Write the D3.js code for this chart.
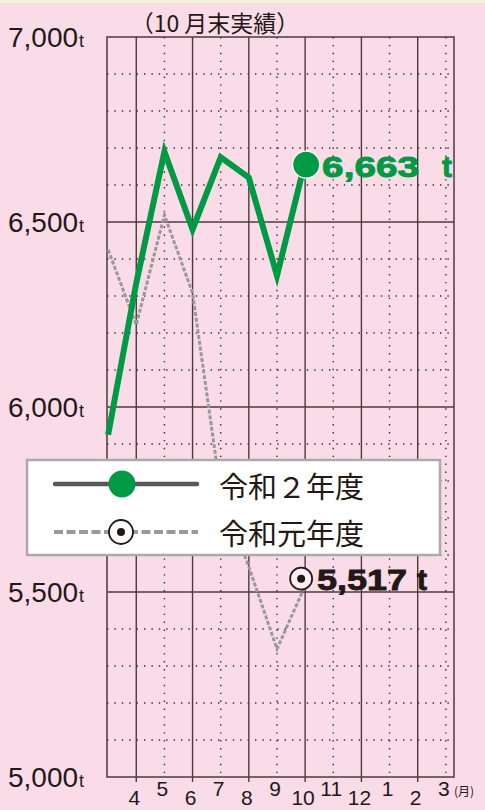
<!DOCTYPE html>
<html>
<head>
<meta charset="utf-8">
<script src="https://cdn.jsdelivr.net/npm/d3@7"></script>
<style>
  body { margin: 0; background: #fadce9; }
  svg { display: block; }
</style>
</head>
<body>
<script>
// data (first point = end of previous March)
var months = ["", "4", "5", "6", "7", "8", "9", "10", "11", "12", "1", "2", "3"];
var r2Values = [5925, 6335, 6690, 6480, 6675, 6620, 6355, 6663];
var r1Values = [6425, 6222, 6519, 6308, 5770, 5568, 5346, 5517];
var yTicks = [5000, 5500, 6000, 6500, 7000];
var yTickLabels = ["5,000", "5,500", "6,000", "6,500", "7,000"];
var legendNames = ["令和２年度", "令和元年度"];
var title = "（10 月末実績）";

var width = 485, height = 810;
var green = "#009a44";
var ink = "#231815";
var gridColor = "#4b3b3d";

var svg = d3.select("body")
            .append("svg")
            .attr("width", width)
            .attr("height", height);

svg.append("rect").attr("width", width).attr("height", height).attr("fill", "#fadce9");
svg.append("rect").attr("width", width).attr("height", 3).attr("fill", "#f2f4d4");

//scales
var xScale = d3.scaleLinear()
               .domain([-0.04, 12.29])
               .range([107, 454]);

var yScale = d3.scaleLinear()
               .domain([5000, 7000])
               .range([777, 37]);

//horizontal grid: dotted every 100, solid every 500
var minorY = d3.range(5100, 7000, 100).filter(function(d){ return d % 500 != 0; });
svg.selectAll(".hdot")
   .data(minorY)
   .enter()
   .append("line")
   .attr("x1", xScale.range()[0]).attr("x2", xScale.range()[1])
   .attr("y1", function(d){ return yScale(d); })
   .attr("y2", function(d){ return yScale(d); })
   .attr("stroke", "#3a2c2c")
   .attr("stroke-width", 1.4)
   .attr("stroke-dasharray", "1.4,6");

//vertical grid: solid at 4,6,8..., dotted at 5,7,9...
var solidX = d3.range(1, 12, 2);
var dotX = d3.range(2, 13, 2);
svg.selectAll(".vdot")
   .data(dotX)
   .enter()
   .append("line")
   .attr("x1", function(d){ return xScale(d); })
   .attr("x2", function(d){ return xScale(d); })
   .attr("y1", yScale(7000)).attr("y2", yScale(5000))
   .attr("stroke", "#3a2c2c")
   .attr("stroke-width", 1.4)
   .attr("stroke-dasharray", "1.4,6.5");

svg.selectAll(".vsolid")
   .data(solidX)
   .enter()
   .append("line")
   .attr("x1", function(d){ return xScale(d); })
   .attr("x2", function(d){ return xScale(d); })
   .attr("y1", yScale(7000)).attr("y2", yScale(5000) + 5)
   .attr("stroke", gridColor)
   .attr("stroke-width", 1.4);

svg.selectAll(".hsolid")
   .data([5500, 6000, 6500])
   .enter()
   .append("line")
   .attr("x1", xScale.range()[0]).attr("x2", xScale.range()[1])
   .attr("y1", function(d){ return yScale(d); })
   .attr("y2", function(d){ return yScale(d); })
   .attr("stroke", gridColor)
   .attr("stroke-width", 1.4);

//plot border
svg.append("rect")
   .attr("x", xScale.range()[0])
   .attr("y", yScale(7000))
   .attr("width", xScale.range()[1] - xScale.range()[0])
   .attr("height", yScale(5000) - yScale(7000))
   .attr("fill", "none")
   .attr("stroke", gridColor)
   .attr("stroke-width", 1.5);

//y labels
var yLab = svg.selectAll(".ylab")
   .data(yTicks)
   .enter()
   .append("text")
   .attr("x", 8)
   .attr("y", function(d){ return yScale(d) + 10; })
   .attr("font-family", "'Liberation Sans', Arial, sans-serif")
   .attr("fill", ink);
yLab.append("tspan")
    .attr("font-size", 28)
    .text(function(d, i){ return yTickLabels[i]; });
yLab.append("tspan")
    .attr("font-size", 18)
    .attr("dx", 1)
    .text("t");

//x labels (staggered)
svg.selectAll(".xlab")
   .data(months.slice(1))
   .enter()
   .append("text")
   .attr("x", function(d, i){ return xScale(i + 1) - 2; })
   .attr("y", function(d, i){ return i % 2 == 0 ? 805 : 796; })
   .attr("text-anchor", "middle")
   .attr("font-family", "'Liberation Sans', Arial, sans-serif")
   .attr("font-size", 21)
   .attr("fill", ink)
   .text(function(d){ return d; });

svg.append("text")
   .attr("x", 454).attr("y", 796)
   .attr("font-family", "'Noto Sans CJK JP', sans-serif")
   .attr("font-size", 12)
   .attr("fill", ink)
   .text("(月)");

//title
svg.append("text")
   .attr("x", 215).attr("y", 32)
   .attr("text-anchor", "middle")
   .attr("font-family", "'Noto Sans CJK JP', sans-serif")
   .attr("font-size", 23)
   .attr("fill", ink)
   .text(title);

//lines
var line = d3.line()
             .x(function(d, i){ return xScale(i); })
             .y(function(d){ return yScale(d); });

svg.append("path")
   .datum(r1Values)
   .attr("d", line)
   .attr("fill", "none")
   .attr("stroke", "#999")
   .attr("stroke-width", 3)
   .attr("stroke-dasharray", "4,1.8");

svg.append("path")
   .datum(r2Values)
   .attr("d", line)
   .attr("fill", "none")
   .attr("stroke", green)
   .attr("stroke-width", 6)
   .attr("stroke-linejoin", "miter");

//end markers + labels
var lastR2 = r2Values.length - 1;
var gx = xScale(lastR2), gy = yScale(r2Values[lastR2]);
svg.append("circle")
   .attr("cx", gx + 1).attr("cy", gy + 3)
   .attr("r", 13.5)
   .attr("fill", green)
   .attr("stroke", "#fff")
   .attr("stroke-width", 1.2);
var gLab = svg.append("text")
   .attr("x", gx + 17).attr("y", gy + 15)
   .attr("font-family", "'Liberation Sans', Arial, sans-serif")
   .attr("font-weight", "bold")
   .attr("font-size", 30)
   .attr("fill", green)
   .attr("stroke", green)
   .attr("stroke-width", 0.9);
gLab.append("tspan").attr("textLength", 97).attr("lengthAdjust", "spacingAndGlyphs")
    .text(d3.format(",")(r2Values[lastR2]));
gLab.append("tspan").attr("x", gx + 137).text("t");

var lastR1 = r1Values.length - 1;
var bx = xScale(lastR1) - 4, by = yScale(r1Values[lastR1]) - 7;
svg.append("circle")
   .attr("cx", bx).attr("cy", by)
   .attr("r", 11)
   .attr("fill", "#fdeef4")
   .attr("stroke", ink)
   .attr("stroke-width", 1.8);
svg.append("circle")
   .attr("cx", bx).attr("cy", by)
   .attr("r", 4)
   .attr("fill", ink);
var bLab = svg.append("text")
   .attr("x", bx + 16).attr("y", by + 11)
   .attr("font-family", "'Liberation Sans', Arial, sans-serif")
   .attr("font-weight", "bold")
   .attr("font-size", 30)
   .attr("fill", ink)
   .attr("stroke", ink)
   .attr("stroke-width", 0.9);
bLab.append("tspan").attr("textLength", 90).attr("lengthAdjust", "spacingAndGlyphs")
    .text(d3.format(",")(r1Values[lastR1]));
bLab.append("tspan").attr("x", bx + 116).text("t");

//legend
var legend = svg.append("g");
legend.append("rect")
      .attr("x", 27).attr("y", 460)
      .attr("width", 413).attr("height", 95)
      .attr("fill", "#fff")
      .attr("stroke", "#aaa")
      .attr("stroke-width", 2.5);

legend.append("line")
      .attr("x1", 55).attr("x2", 197).attr("y1", 484).attr("y2", 484)
      .attr("stroke", "#595757").attr("stroke-width", 4.5)
      .attr("stroke-linecap", "round");
legend.append("circle")
      .attr("cx", 122).attr("cy", 484).attr("r", 13.5)
      .attr("fill", green);

legend.append("line")
      .attr("x1", 54).attr("x2", 198).attr("y1", 532).attr("y2", 532)
      .attr("stroke", "#999").attr("stroke-width", 4)
      .attr("stroke-dasharray", "9,3.5");
legend.append("circle")
      .attr("cx", 121).attr("cy", 532).attr("r", 12)
      .attr("fill", "#fff").attr("stroke", ink).attr("stroke-width", 1.8);
legend.append("circle")
      .attr("cx", 121).attr("cy", 532).attr("r", 4)
      .attr("fill", ink);

legend.selectAll(".ltext")
      .data(legendNames)
      .enter()
      .append("text")
      .attr("x", 219)
      .attr("y", function(d, i){ return 498 + i * 47; })
      .attr("font-family", "'Noto Sans CJK JP', sans-serif")
      .attr("font-size", 29)
      .attr("fill", ink)
      .text(function(d){ return d; });
</script>
</body>
</html>
